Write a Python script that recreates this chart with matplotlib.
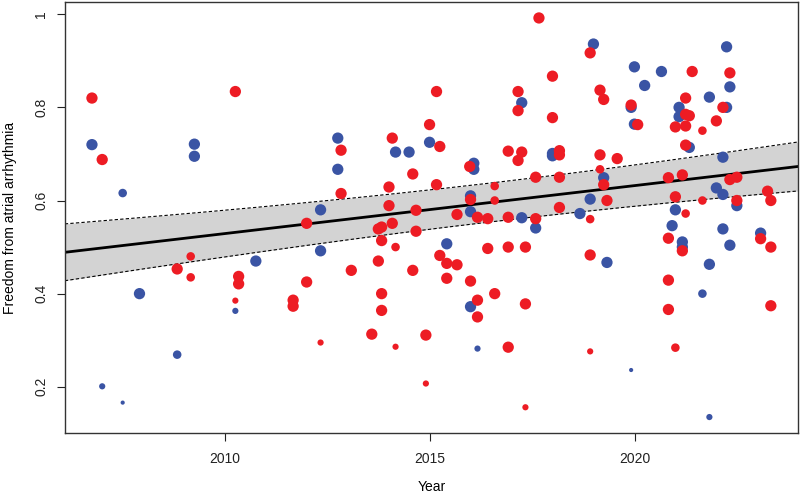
import matplotlib
matplotlib.use("Agg")
import matplotlib.pyplot as plt
import numpy as np

# Study-level data (year, freedom from AF, marker size class)
red_year = [2006.75, 2007.0, 2010.25, 2011.99, 2017.66, 2015.16, 2017.15, 2017.15, 2017.99, 2017.99,
            2014.99, 2014.08, 2015.24, 2012.83, 2016.91, 2017.24, 2017.15, 2015.97, 2014.58, 2017.58,
            2012.83, 2014.0, 2015.16, 2016.58, 2015.99, 2016.58, 2014.0, 2014.66, 2014.08, 2015.66,
            2016.16, 2016.41, 2016.91, 2017.58, 2013.74, 2013.82, 2014.66, 2013.82, 2014.16, 2016.41,
            2016.91, 2017.33, 2015.24, 2015.41, 2015.66, 2013.74, 2013.08, 2014.58, 2015.41, 2015.99,
            2011.99, 2013.82, 2016.58, 2016.16, 2017.33, 2013.82, 2016.16, 2013.58, 2014.9, 2012.33,
            2014.16, 2016.91, 2014.9, 2017.33, 2009.16, 2008.83, 2009.16, 2010.33, 2010.33, 2010.25,
            2011.66, 2011.66, 2018.91, 2021.40, 2022.32, 2019.15, 2019.24, 2021.24, 2019.91, 2022.15,
            2021.24, 2021.33, 2020.07, 2020.99, 2021.24, 2021.99, 2021.65, 2021.24, 2018.16, 2018.16,
            2019.15, 2019.57, 2019.15, 2018.16, 2020.82, 2021.16, 2019.24, 2022.32, 2022.49, 2020.99,
            2019.32, 2021.65, 2022.49, 2023.24, 2023.32, 2018.16, 2021.24, 2018.91, 2023.07, 2020.82,
            2023.32, 2021.16, 2018.91, 2020.82, 2020.82, 2023.32, 2018.91, 2020.99]
red_value = [0.820, 0.688, 0.834, 0.551, 0.992, 0.834, 0.834, 0.793, 0.867, 0.778,
             0.763, 0.734, 0.716, 0.708, 0.706, 0.704, 0.686, 0.673, 0.657, 0.650,
             0.615, 0.629, 0.634, 0.631, 0.602, 0.600, 0.589, 0.579, 0.551, 0.570,
             0.564, 0.561, 0.564, 0.561, 0.539, 0.543, 0.534, 0.514, 0.500, 0.497,
             0.500, 0.500, 0.482, 0.465, 0.462, 0.470, 0.450, 0.450, 0.433, 0.427,
             0.425, 0.400, 0.400, 0.386, 0.378, 0.364, 0.350, 0.313, 0.311, 0.295,
             0.286, 0.285, 0.207, 0.156, 0.480, 0.453, 0.435, 0.437, 0.421, 0.385,
             0.386, 0.373, 0.917, 0.877, 0.874, 0.837, 0.817, 0.820, 0.805, 0.800,
             0.785, 0.782, 0.763, 0.758, 0.760, 0.771, 0.750, 0.719, 0.707, 0.698,
             0.698, 0.690, 0.667, 0.650, 0.649, 0.655, 0.634, 0.645, 0.650, 0.608,
             0.600, 0.600, 0.600, 0.620, 0.600, 0.585, 0.572, 0.560, 0.518, 0.519,
             0.500, 0.492, 0.483, 0.429, 0.366, 0.374, 0.276, 0.284]
red_size = ["L", "L", "L", "L", "L", "L", "L", "L", "L", "L",
            "L", "L", "L", "L", "L", "L", "L", "L", "L", "L",
            "L", "L", "L", "M", "L", "M", "L", "L", "L", "L",
            "L", "L", "L", "L", "L", "L", "L", "L", "M", "L",
            "L", "L", "L", "L", "L", "L", "L", "L", "L", "L",
            "L", "L", "L", "L", "L", "L", "L", "L", "L", "S",
            "S", "L", "S", "S", "M", "L", "M", "L", "L", "S",
            "L", "L", "L", "L", "L", "L", "L", "L", "L", "L",
            "L", "L", "L", "L", "L", "L", "M", "L", "L", "L",
            "L", "L", "M", "L", "L", "L", "L", "L", "L", "L",
            "L", "M", "L", "L", "L", "L", "M", "M", "L", "L",
            "L", "L", "L", "L", "L", "L", "S", "M"]

blue_year = [2006.75, 2009.25, 2009.25, 2007.5, 2012.75, 2014.99, 2014.16, 2014.49, 2017.24, 2017.99,
             2017.99, 2016.07, 2016.07, 2012.75, 2015.99, 2015.99, 2012.33, 2017.24, 2017.58, 2015.41,
             2012.33, 2015.99, 2016.16, 2010.75, 2007.91, 2010.25, 2008.83, 2007.0, 2007.5, 2018.99,
             2022.24, 2019.99, 2020.65, 2020.24, 2022.32, 2021.82, 2019.91, 2021.08, 2022.24, 2021.08,
             2019.99, 2021.33, 2022.15, 2019.24, 2021.99, 2022.15, 2018.91, 2022.49, 2020.99, 2018.66,
             2020.91, 2022.15, 2023.07, 2021.16, 2021.16, 2022.32, 2019.32, 2021.82, 2021.65, 2019.91,
             2021.82]
blue_value = [0.720, 0.721, 0.695, 0.616, 0.734, 0.725, 0.704, 0.704, 0.810, 0.701,
              0.696, 0.680, 0.667, 0.667, 0.610, 0.576, 0.580, 0.563, 0.541, 0.507,
              0.492, 0.372, 0.282, 0.470, 0.400, 0.363, 0.269, 0.201, 0.166, 0.936,
              0.930, 0.887, 0.877, 0.847, 0.844, 0.822, 0.800, 0.800, 0.800, 0.780,
              0.764, 0.714, 0.693, 0.649, 0.627, 0.613, 0.603, 0.589, 0.580, 0.572,
              0.546, 0.539, 0.530, 0.511, 0.500, 0.504, 0.467, 0.463, 0.400, 0.236,
              0.135]
blue_size = ["L", "L", "L", "M", "L", "L", "L", "L", "L", "L",
             "L", "L", "L", "L", "L", "L", "L", "L", "L", "L",
             "L", "L", "S", "L", "L", "S", "M", "S", "T", "L",
             "L", "L", "L", "L", "L", "L", "L", "L", "L", "L",
             "L", "L", "L", "L", "L", "L", "L", "L", "L", "L",
             "L", "L", "L", "L", "L", "L", "L", "L", "M", "T",
             "S"]

# meta-regression fit: value at centre year, slope and standard errors
fit_center = 2016.5
fit_at_center = 0.596
fit_slope = 0.0103
se_center = 0.0213
se_slope = 0.00218

size_map = {"L": 66, "M": 38, "S": 20, "T": 9}
red_col = "#ED1C24"
blue_col = "#3A54A4"

plt.rcParams["font.family"] = ["Liberation Sans", "DejaVu Sans"]

fig = plt.figure(figsize=(8, 4.98), dpi=100)
ax = fig.add_axes([0.081, 0.1305, 0.9165, 0.8655])

all_x = np.array(red_year + blue_year)
all_y = np.array(red_value + blue_value)
xr = all_x.max() - all_x.min()
yr = all_y.max() - all_y.min()
xlim = (all_x.min() - 0.04 * xr, all_x.max() + 0.04 * xr)
ylim = (all_y.min() - 0.04 * yr, all_y.max() + 0.04 * yr)

xs = np.linspace(xlim[0], xlim[1], 200)
pred = fit_at_center + fit_slope * (xs - fit_center)
half = 1.96 * np.sqrt(se_center ** 2 + (se_slope * (xs - fit_center)) ** 2)
ax.fill_between(xs, pred - half, pred + half, color="#D3D3D3", lw=0, zorder=1)
ax.plot(xs, pred + half, color="black", lw=0.8, ls=(0, (3, 2)), zorder=2)
ax.plot(xs, pred - half, color="black", lw=0.8, ls=(0, (3, 2)), zorder=2)
ax.plot(xs, pred, color="black", lw=2.0, zorder=2)

ax.scatter(blue_year, blue_value, s=[size_map[k] for k in blue_size],
           color=blue_col, edgecolors="none", zorder=3)
ax.scatter(red_year, red_value, s=[size_map[k] for k in red_size],
           color=red_col, edgecolors="none", zorder=4)

ax.set_xlim(xlim)
ax.set_ylim(ylim)
ax.set_xticks([2010, 2015, 2020])
ax.set_yticks([0.2, 0.4, 0.6, 0.8, 1.0])
ax.set_yticklabels(["0.2", "0.4", "0.6", "0.8", "1"], rotation=90, va="center")
ax.tick_params(axis="both", direction="out", length=6, width=0.8, labelsize=10, colors="#222222")
ax.tick_params(axis="x", pad=8)
ax.tick_params(axis="y", pad=6)
for sp in ax.spines.values():
    sp.set_linewidth(1.0)
    sp.set_color("#333333")

ax.set_xlabel("Year", fontsize=10, labelpad=10)
ax.set_ylabel("Freedom from atrial arrhythmia", fontsize=10, labelpad=12)

fig.savefig("out.png", dpi=100)
